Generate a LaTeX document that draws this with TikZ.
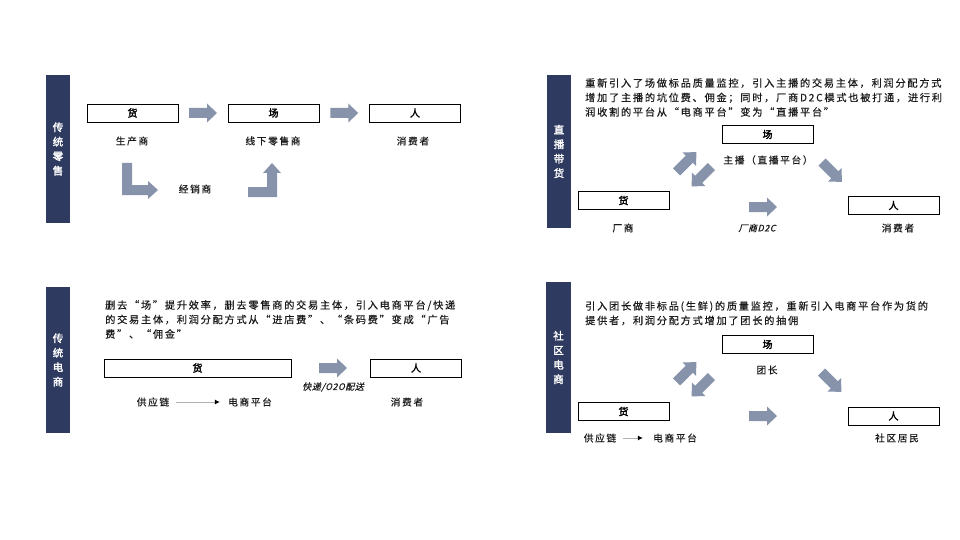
\documentclass[tikz,border=0pt]{standalone}
\usepackage{fontspec}
\usetikzlibrary{arrows.meta,calc}
\newfontfamily\cjk[LetterSpace=17,FakeBold=0.35]{Noto Sans CJK SC}
\newfontfamily\cjkbold[LetterSpace=0,FakeBold=2.5]{Noto Sans CJK SC}
\newfontfamily\cjkside[LetterSpace=0,FakeBold=2]{Noto Sans CJK SC}
\newfontfamily\cjkit[LetterSpace=6,FakeSlant=0.25,FakeBold=0.35]{Noto Sans CJK SC}
\definecolor{navy}{HTML}{2E3A60}
\definecolor{arrfill}{HTML}{8793AA}
\definecolor{txt}{HTML}{1A1A1A}
\newcommand\blockarr[2]{\fill[arrfill,shift={#1},rotate=#2] (-14,-5) -- (4,-5) -- (4,-9.5) -- (14,0) -- (4,9.5) -- (4,5) -- (-14,5) -- cycle;}
\begin{document}
\begin{tikzpicture}[x=1pt,y=-1pt,
  side/.style={fill=navy,inner sep=0pt,text=white,align=center,
    font=\cjkside\fontsize{10.5}{14.5}\selectfont},
  box/.style={draw=black,line width=0.8pt,minimum width=91pt,minimum height=18pt,inner sep=0pt,
    font=\cjkbold\fontsize{10}{12}\selectfont,text=black},
  lbl/.style={inner sep=0pt,text=txt,font=\cjk\fontsize{9.7}{12}\selectfont},
  ilbl/.style={inner sep=0pt,text=txt,font=\cjkit\fontsize{9}{10}\selectfont},
  para/.style={inner sep=0pt,anchor=north west,align=left,text=txt,font=\cjk\fontsize{10.2}{14.5}\selectfont},
  thin/.style={draw=gray!60,line width=1pt,-{Latex[black,length=5pt,width=5pt]}}
]
\useasboundingbox (0,0) rectangle (960,540);
\fill[white] (0,0) rectangle (960,540);

% ---------- Panel 1: 传统零售 ----------
\node[side,minimum width=24pt,minimum height=148pt] (s1) at (58,149) {传\\统\\零\\售};
\node[box] (b1h) at (132.5,113) {货};
\node[box] (b1c) at (273.5,113) {场};
\node[box] (b1r) at (415,113) {人};
\blockarr{($(b1h.east)!0.5!(b1c.west)$)}{0}
\blockarr{($(b1c.east)!0.5!(b1r.west)$)}{0}
\node[lbl] (l1a) at (132,141) {生产商};
\node[lbl] (l1b) at (273,141) {线下零售商};
\node[lbl] (l1c) at (413,141) {消费者};
\node[lbl] (l1d) at (195,189) {经销商};
\fill[arrfill] (122,163) -- (132,163) -- (132,185) -- (148,185) -- (148,181) -- (158,190) -- (148,199) -- (148,195) -- (122,195) -- cycle;
\fill[arrfill] (248,187) -- (267,187) -- (267,173) -- (263,173) -- (272,163) -- (281,173) -- (277,173) -- (277,197) -- (248,197) -- cycle;

% ---------- Panel 2: 直播带货 ----------
\node[side,minimum width=24pt,minimum height=153pt] (s2) at (559,151.5) {直\\播\\带\\货};
\node[para] (p2) at (585,78) {重新引入了场做标品质量监控，引入主播的交易主体，利润分配方式\\增加了主播的坑位费、佣金；同时，厂商D2C模式也被打通，进行利\\润收割的平台从“电商平台”变为“直播平台”};
\node[box] (b2c) at (767.5,134.5) {场};
\node[box] (b2h) at (623.5,200.5) {货};
\node[box] (b2r) at (893.5,205.5) {人};
\node[lbl] (l2a) at (768,160) {主播（直播平台）};
\node[lbl] (l2b) at (623,228) {厂商};
\node[ilbl] (l2c) at (757,228) {厂商D2C};
\node[lbl] (l2d) at (898,228) {消费者};
\blockarr{(686.5,162)}{45}
\blockarr{(701.5,176.5)}{225}
\blockarr{(832,172)}{-45}
\blockarr{(763,207)}{0}

% ---------- Panel 3: 传统电商 ----------
\node[side,minimum width=24pt,minimum height=146pt] (s3) at (58,360) {传\\统\\电\\商};
\node[para] (p3) at (105,300) {删去“场”提升效率，删去零售商的交易主体，引入电商平台/快递\\的交易主体，利润分配方式从“进店费”、“条码费”变成“广告\\费”、“佣金”};
\node[box,minimum width=187pt] (b3h) at (197.5,368) {货};
\node[box] (b3r) at (416,368) {人};
\blockarr{(333,368)}{0}
\node[ilbl] (l3a) at (333,387) {快递/O2O配送};
\node[lbl] (l3b) at (153,402) {供应链};
\node[lbl] (l3c) at (250,402) {电商平台};
\node[lbl] (l3d) at (407,402) {消费者};
\draw[thin,shorten <=7pt,shorten >=8pt] (l3b.east) -- (l3c.west);

% ---------- Panel 4: 社区电商 ----------
\node[side,minimum width=25pt,minimum height=151pt] (s4) at (558.5,357.5) {社\\区\\电\\商};
\node[para] (p4) at (585,301) {引入团长做非标品(生鲜)的质量监控，重新引入电商平台作为货的\\提供者，利润分配方式增加了团长的抽佣};
\node[box] (b4c) at (767.5,344.5) {场};
\node[box] (b4h) at (623.5,411.5) {货};
\node[box] (b4r) at (893.5,416) {人};
\node[lbl] (l4a) at (767,370) {团长};
\node[lbl] (l4b) at (600,438) {供应链};
\node[lbl] (l4c) at (675,438) {电商平台};
\node[lbl] (l4d) at (897,438) {社区居民};
\draw[thin,shorten <=7pt,shorten >=10pt] (l4b.east) -- (l4c.west);
\blockarr{(686.5,372)}{45}
\blockarr{(701.5,386.5)}{225}
\blockarr{(831.5,382)}{-45}
\blockarr{(763,416)}{0}
\end{tikzpicture}
\end{document}
